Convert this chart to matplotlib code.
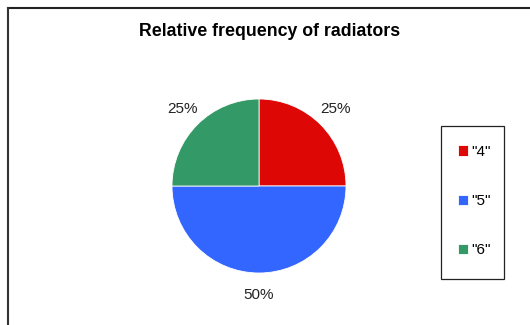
import matplotlib.pyplot as plt
from matplotlib.lines import Line2D
from matplotlib.patches import Rectangle

# data
categories = ['"4"', '"5"', '"6"']
shares = [25, 50, 25]
colors = ['#dd0806', '#3366ff', '#339966']

plt.rcParams['font.family'] = ['Liberation Sans', 'DejaVu Sans']

fig = plt.figure(figsize=(5.3, 3.25), dpi=100)
W, H = 530, 325

# pie axes: centre (259,186) px, radius 87 px
cx, cy, r = 259, 186, 87
ax = fig.add_axes([(cx - r) / W, (H - cy - r) / H, 2 * r / W, 2 * r / H])
wedges, texts, autotexts = ax.pie(shares, colors=colors, startangle=90, counterclock=False,
                                  autopct='%d%%', pctdistance=1.25, radius=1,
                                  wedgeprops={'linewidth': 0.6, 'edgecolor': 'white'},
                                  textprops={'fontsize': 11, 'color': '#222222'})
ax.set_xlim(-1, 1)
ax.set_ylim(-1, 1)
ax.set_aspect('equal')

fig.text(270 / W, 1 - 31 / H, 'Relative frequency of radiators', ha='center', va='center',
         fontsize=12.8, fontweight='bold')

# frame lines (top and left)
fig.add_artist(Line2D([7.5 / W, 1], [1 - 7.5 / H, 1 - 7.5 / H], color='#222222', lw=1.5,
                      transform=fig.transFigure))
fig.add_artist(Line2D([7.5 / W, 7.5 / W], [0, 1 - 7.5 / H], color='#333333', lw=1.5,
                      transform=fig.transFigure))

# legend box drawn separately so its size matches
fig.add_artist(Rectangle((441 / W, 1 - 279 / H), 63 / W, 153 / H, fill=False,
                         edgecolor='#222222', lw=0.9, transform=fig.transFigure))
leg = fig.legend(wedges, categories, loc='center', bbox_to_anchor=(474.5 / W, 1 - 201 / H),
                 frameon=False, fontsize=11, handlelength=0.65, handleheight=0.65,
                 handletextpad=0.25, labelspacing=2.3, borderpad=0, borderaxespad=0)

fig.savefig('out.png', dpi=100)
